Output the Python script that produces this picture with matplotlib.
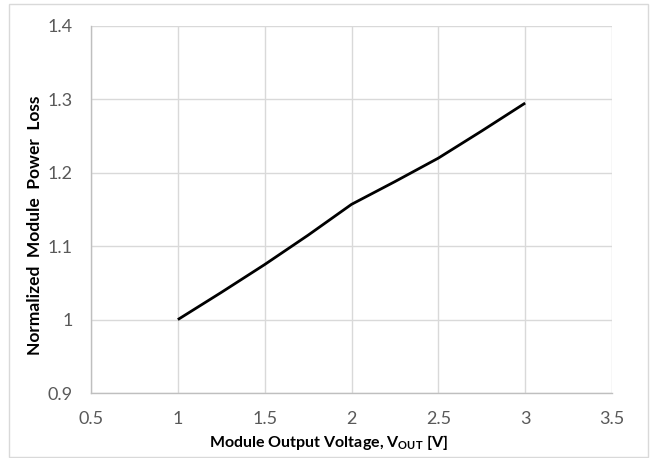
import matplotlib.pyplot as plt
import numpy as np
from matplotlib.patches import Rectangle

# data
vout = [1.0, 1.25, 1.5, 1.75, 2.0, 2.25, 2.5, 2.75, 3.0]
loss = [1.0, 1.037, 1.075, 1.115, 1.157, 1.188, 1.22, 1.257, 1.295]
xticks = [0.5, 1, 1.5, 2, 2.5, 3, 3.5]
yticks = [0.9, 1.0, 1.1, 1.2, 1.3, 1.4]
xtick_labels = ["0.5", "1", "1.5", "2", "2.5", "3", "3.5"]
ytick_labels = ["0.9", "1", "1.1", "1.2", "1.3", "1.4"]

plt.rcParams["font.family"] = ["Lato", "DejaVu Sans"]

fig = plt.figure(figsize=(6.53, 4.58), dpi=100)
ax = fig.add_axes([91 / 653, 1 - 393 / 458, (612 - 91) / 653, (393 - 26) / 458])

# outer chart border like the Excel frame
fig.patches.append(Rectangle((9 / 653, 1 / 458), 639 / 653, 453 / 458,
                             transform=fig.transFigure, fill=False,
                             edgecolor="#d9d9d9", linewidth=1.0))

ax.plot(vout, loss, color="black", linewidth=2.0, solid_capstyle="butt")

ax.set_xlim(0.5, 3.5)
ax.set_ylim(0.9, 1.4)
ax.set_xticks(xticks)
ax.set_xticklabels(xtick_labels)
ax.set_yticks(yticks)
ax.set_yticklabels(ytick_labels)
ax.tick_params(length=0, colors="#595959", labelsize=13)
ax.tick_params(axis="x", pad=13)
ax.tick_params(axis="y", pad=13)

ax.grid(True, color="#d9d9d9", linewidth=1.0)
ax.set_axisbelow(True)
for side in ["top", "right"]:
    ax.spines[side].set_visible(False)
for side in ["left", "bottom"]:
    ax.spines[side].set_color("#bfbfbf")
    ax.spines[side].set_linewidth(1.0)

fig.text(329 / 653, 1 - 442 / 458, r"Module Output Voltage, V$_{\mathregular{OUT}}$ [V]",
         ha="center", va="center", fontsize=11.5, fontweight="bold", color="black")
fig.text(35 / 653, 1 - 225 / 458, "Normalized  Module  Power  Loss",
         ha="center", va="center", rotation=90, fontsize=12.5,
         fontweight="bold", color="black")

fig.savefig("out.png", dpi=100)
